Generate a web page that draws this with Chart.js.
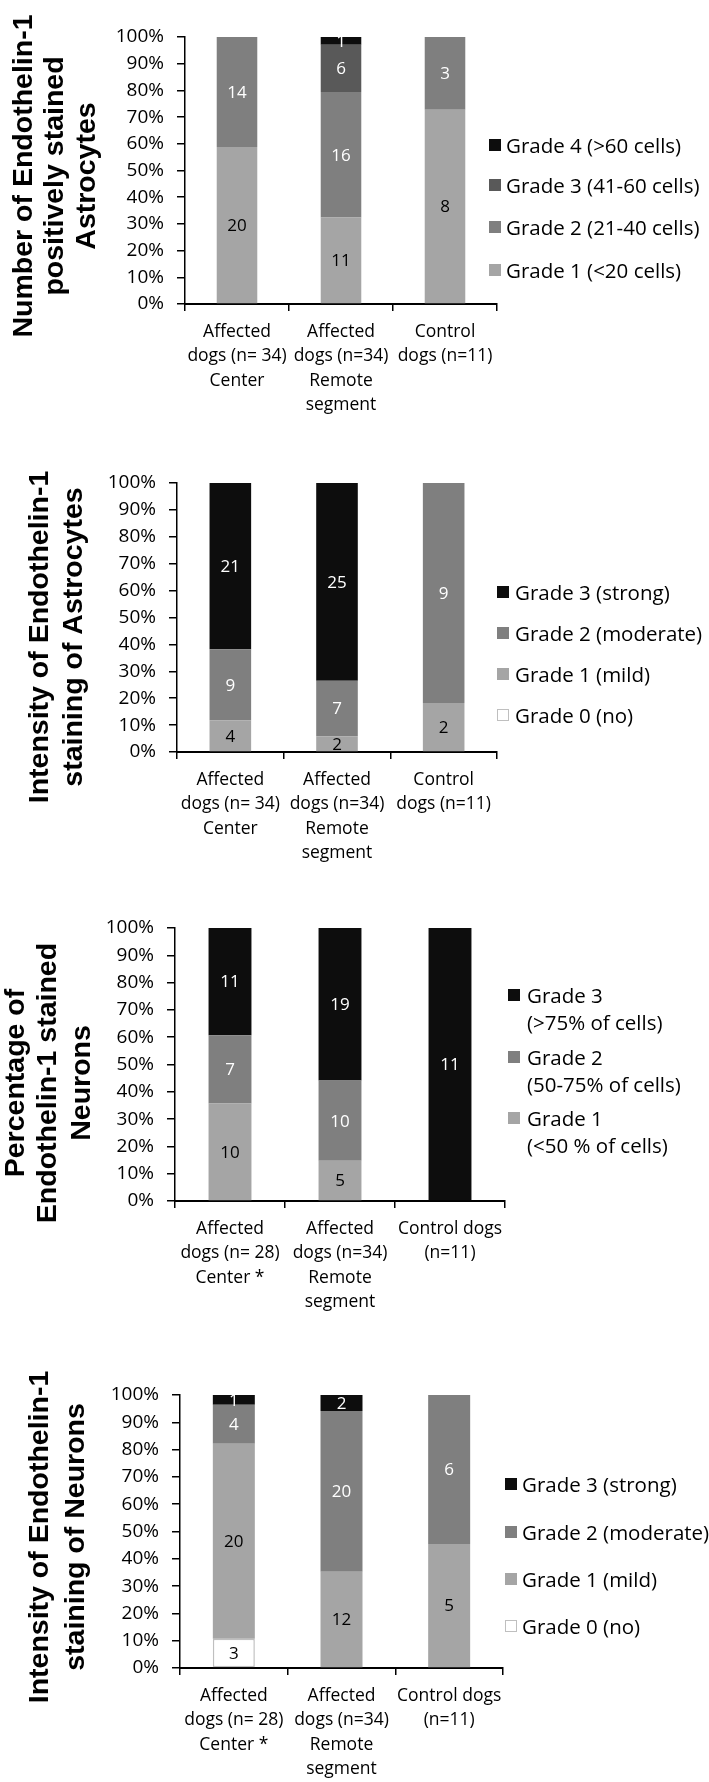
<!DOCTYPE html>
<html>
<head>
<meta charset="utf-8">
<title>Endothelin-1 staining of astrocytes and neurons</title>
<script src="https://cdn.jsdelivr.net/npm/chart.js"></script>
<style>
    body {
        margin: 0;
        background: #ffffff;
    }

    .page {
        position: relative;
        width: 709px;
        height: 1782px;
        overflow: hidden;
        font-family: 'Open Sans', sans-serif;
    }

    .page canvas {
        position: absolute;
        left: 0;
    }

    /* HTML legends to the right of each chart */
    .legend-item {
        position: absolute;
        font-size: 20.5px;
        line-height: 27px;
        color: #000;
        white-space: nowrap;
    }

    .legend-box {
        position: absolute;
        width: 12px;
        height: 12px;
        box-sizing: border-box;
    }
</style>
</head>
<body>
<div class="page" id="page">
    <canvas id="chartAstroNumber" width="709" height="440" style="top:0px"></canvas>
    <canvas id="chartAstroIntensity" width="709" height="430" style="top:440px"></canvas>
    <canvas id="chartNeuronPercent" width="709" height="460" style="top:870px"></canvas>
    <canvas id="chartNeuronIntensity" width="709" height="452" style="top:1330px"></canvas>
</div>

<script>
    // Categories (multi-line tick labels)
    const astroCategories = [
        ['Affected', 'dogs (n= 34)', 'Center'],
        ['Affected', 'dogs (n=34)', 'Remote', 'segment'],
        ['Control', 'dogs (n=11)']
    ];
    const neuronCategories = [
        ['Affected', 'dogs (n= 28)', 'Center *'],
        ['Affected', 'dogs (n=34)', 'Remote', 'segment'],
        ['Control dogs', '(n=11)']
    ];

    // Chart 1: number of Endothelin-1 positively stained astrocytes (counts)
    const numAstroGrade1 = [20, 11, 8];
    const numAstroGrade2 = [14, 16, 3];
    const numAstroGrade3 = [0, 6, 0];
    const numAstroGrade4 = [0, 1, 0];
    const numAstroLegend = ['Grade 4 (>60 cells)', 'Grade 3 (41-60 cells)', 'Grade 2 (21-40 cells)', 'Grade 1 (<20 cells)'];

    // Chart 2: intensity of Endothelin-1 staining of astrocytes (counts)
    const intAstroGrade0 = [0, 0, 0];
    const intAstroGrade1 = [4, 2, 2];
    const intAstroGrade2 = [9, 7, 9];
    const intAstroGrade3 = [21, 25, 0];

    // Chart 3: percentage of Endothelin-1 stained neurons (counts)
    const pctNeuronGrade1 = [10, 5, 0];
    const pctNeuronGrade2 = [7, 10, 0];
    const pctNeuronGrade3 = [11, 19, 11];
    const pctNeuronLegend = [['Grade 3', '(>75% of cells)'], ['Grade 2', '(50-75% of cells)'], ['Grade 1', '(<50 % of cells)']];

    // Chart 4: intensity of Endothelin-1 staining of neurons (counts)
    const intNeuronGrade0 = [3, 0, 0];
    const intNeuronGrade1 = [20, 12, 5];
    const intNeuronGrade2 = [4, 20, 6];
    const intNeuronGrade3 = [1, 2, 0];

    const intensityLegend = ['Grade 3 (strong)', 'Grade 2 (moderate)', 'Grade 1 (mild)', 'Grade 0 (no)'];

    // y axis: 0% .. 100% every 10%
    const yTickStep = 10;

    const GREY_LIGHT = '#a5a5a5';
    const GREY_MID = '#7f7f7f';
    const GREY_DARK = '#595959';
    const BLACK = '#0d0d0d';

    // share of each column total, in percent
    function toPercent(series, all) {
        return series.map((v, i) => {
            const total = all.reduce((s, arr) => s + arr[i], 0);
            return total ? v / total * 100 : 0;
        });
    }

    function makeDatasets(seriesList, colors, labelColors, whiteIdx) {
        return seriesList.map((s, k) => ({
            data: toPercent(s, seriesList),
            counts: s,
            backgroundColor: colors[k],
            labelColor: labelColors[k],
            borderColor: k === whiteIdx ? '#bfbfbf' : colors[k],
            borderWidth: k === whiteIdx ? 1.5 : 0,
            borderSkipped: false,
            barPercentage: 0.39,
            categoryPercentage: 1.0
        }));
    }

    // count labels in the middle of each segment
    const segmentLabels = {
        id: 'segmentLabels',
        afterDatasetsDraw(chart) {
            const ctx = chart.ctx;
            ctx.save();
            ctx.font = '17px "Open Sans"';
            ctx.textAlign = 'center';
            ctx.textBaseline = 'middle';
            chart.data.datasets.forEach((ds, i) => {
                chart.getDatasetMeta(i).data.forEach((bar, j) => {
                    const n = ds.counts[j];
                    if (!n) return;
                    ctx.fillStyle = ds.labelColor;
                    ctx.fillText(String(n), bar.x, (bar.y + bar.base) / 2 + 1);
                });
            });
            ctx.restore();
        }
    };

    // rotated bold y axis title, several lines
    const sideTitle = {
        id: 'sideTitle',
        afterDraw(chart, args, opts) {
            const ctx = chart.ctx;
            ctx.save();
            ctx.font = 'bold 28.5px "Liberation Sans", Arial, sans-serif';
            ctx.fillStyle = '#000';
            ctx.textAlign = 'center';
            ctx.textBaseline = 'middle';
            opts.lines.forEach((line, k) => {
                ctx.save();
                ctx.translate(opts.x[k], opts.cy);
                ctx.rotate(-Math.PI / 2);
                ctx.fillText(line, 0, 0);
                ctx.restore();
            });
            ctx.restore();
        }
    };

    function makeChart(id, top, height, area, categories, datasets, title) {
        const ctx = document.getElementById(id).getContext('2d');
        return new Chart(ctx, {
            type: 'bar',
            data: { labels: categories, datasets: datasets },
            plugins: [segmentLabels, sideTitle],
            options: {
                responsive: false,
                animation: false,
                layout: { padding: { left: 0, top: area.top - top, right: 709 - area.right, bottom: 0 } },
                plugins: {
                    legend: { display: false },
                    tooltip: { enabled: false },
                    sideTitle: { lines: title.lines, x: title.x, cy: title.cy - top }
                },
                scales: {
                    x: {
                        stacked: true,
                        z: 1,
                        grid: { drawOnChartArea: false, drawTicks: true, tickLength: 7, color: '#000', lineWidth: 1.5, offset: true },
                        border: { color: '#000', width: 2 },
                        ticks: {
                            color: '#000',
                            font: { family: 'Open Sans', size: 17.5, lineHeight: 1.4 },
                            padding: 8.5,
                            maxRotation: 0,
                            autoSkip: false
                        },
                        afterFit(scale) { scale.height = top + height - area.bottom; }
                    },
                    y: {
                        stacked: true,
                        min: 0,
                        max: 100,
                        z: 1,
                        grid: { drawOnChartArea: false, tickLength: 8, color: '#000', lineWidth: 1.5 },
                        border: { color: '#000', width: 1.5 },
                        ticks: {
                            stepSize: yTickStep,
                            color: '#000',
                            font: { family: 'Open Sans', size: 19 },
                            padding: 13,
                            callback: v => v + '%'
                        },
                        afterFit(scale) { scale.width = area.left; }
                    }
                }
            }
        });
    }

    function makeLegend(labels, colors, boxX, textX, ys, whiteIdx) {
        const page = document.getElementById('page');
        labels.forEach((label, k) => {
            const box = document.createElement('div');
            box.className = 'legend-box';
            box.style.left = boxX + 'px';
            box.style.top = (ys[k] - 6) + 'px';
            box.style.background = colors[k];
            if (k === whiteIdx) box.style.border = '1.5px solid #bfbfbf';
            page.appendChild(box);

            const item = document.createElement('div');
            item.className = 'legend-item';
            item.style.left = textX + 'px';
            item.style.top = (ys[k] - 13.5) + 'px';
            const lines = Array.isArray(label) ? label : [label];
            lines.forEach((ln, i) => {
                if (i) item.appendChild(document.createElement('br'));
                item.appendChild(document.createTextNode(ln));
            });
            page.appendChild(item);
        });
    }

    // Chart 1
    makeChart('chartAstroNumber', 0, 440,
        { left: 185, top: 37, right: 497, bottom: 304 },
        astroCategories,
        makeDatasets([numAstroGrade1, numAstroGrade2, numAstroGrade3, numAstroGrade4],
            [GREY_LIGHT, GREY_MID, GREY_DARK, BLACK], ['#000', '#fff', '#fff', '#fff'], -1),
        { lines: ['Number of Endothelin-1', 'positively stained', 'Astrocytes'], x: [24, 55.5, 87], cy: 176 });
    makeLegend(numAstroLegend, [BLACK, GREY_DARK, GREY_MID, GREY_LIGHT], 489, 506, [145, 185, 227, 270], -1);

    // Chart 2
    makeChart('chartAstroIntensity', 440, 430,
        { left: 177, top: 483, right: 497, bottom: 752 },
        astroCategories,
        makeDatasets([intAstroGrade0, intAstroGrade1, intAstroGrade2, intAstroGrade3],
            ['#ffffff', GREY_LIGHT, GREY_MID, BLACK], ['#000', '#000', '#fff', '#fff'], 0),
        { lines: ['Intensity of Endothelin-1', 'staining of Astrocytes'], x: [40, 74], cy: 637 });
    makeLegend(intensityLegend, [BLACK, GREY_MID, GREY_LIGHT, '#ffffff'], 497, 515, [592, 633, 674, 715], 3);

    // Chart 3
    makeChart('chartNeuronPercent', 870, 460,
        { left: 175, top: 928, right: 505, bottom: 1201 },
        neuronCategories,
        makeDatasets([pctNeuronGrade1, pctNeuronGrade2, pctNeuronGrade3],
            [GREY_LIGHT, GREY_MID, BLACK], ['#000', '#fff', '#fff'], -1),
        { lines: ['Percentage of', 'Endothelin-1 stained', 'Neurons'], x: [16, 48, 82], cy: 1083 });
    makeLegend(pctNeuronLegend, [BLACK, GREY_MID, GREY_LIGHT], 508, 527, [995, 1057, 1118], -1);

    // Chart 4
    makeChart('chartNeuronIntensity', 1330, 452,
        { left: 180, top: 1395, right: 503, bottom: 1668 },
        neuronCategories,
        makeDatasets([intNeuronGrade0, intNeuronGrade1, intNeuronGrade2, intNeuronGrade3],
            ['#ffffff', GREY_LIGHT, GREY_MID, BLACK], ['#000', '#000', '#fff', '#fff'], 0),
        { lines: ['Intensity of Endothelin-1', 'staining of Neurons'], x: [40, 76], cy: 1537 });
    makeLegend(intensityLegend, [BLACK, GREY_MID, GREY_LIGHT, '#ffffff'], 505, 522, [1484, 1532, 1579, 1626], 3);
</script>
</body>
</html>
